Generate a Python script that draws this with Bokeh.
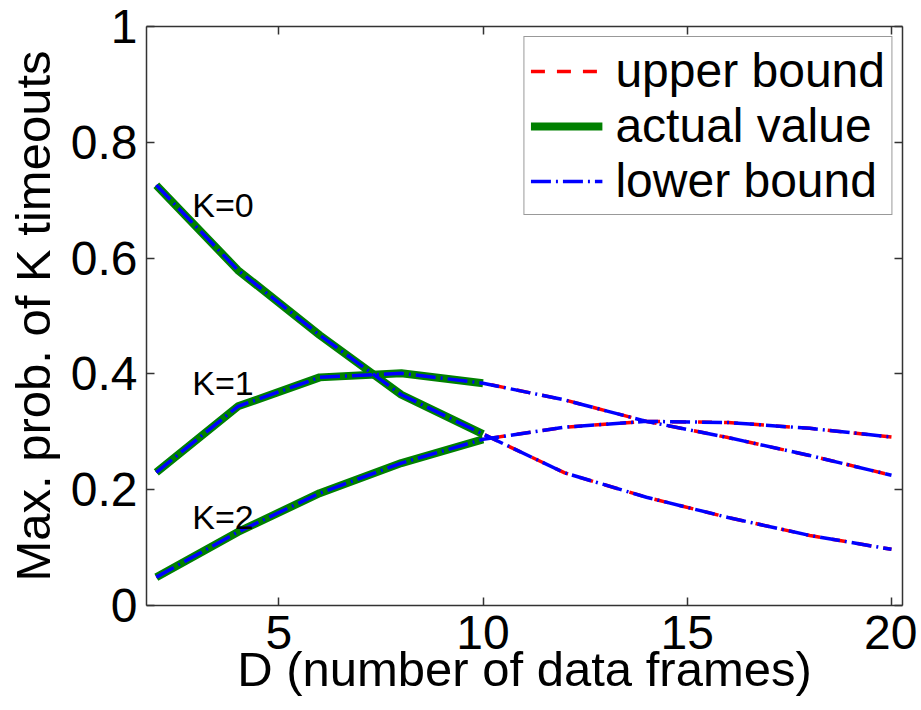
from bokeh.plotting import figure
from bokeh.models import LinearAxis, FixedTicker, Legend, LegendItem, Range1d
from bokeh.core.properties import value
from bokeh.embed import file_html
from bokeh.resources import INLINE

# ---------------- data ----------------
D_actual = [2, 4, 6, 8, 10]
actual_K0 = [0.726, 0.579, 0.467, 0.364, 0.296]
actual_K1 = [0.230, 0.344, 0.394, 0.401, 0.384]
actual_K2 = [0.049, 0.127, 0.194, 0.246, 0.287]

D_bound = [2, 4, 6, 8, 10, 12, 14, 16, 18, 20]
upper_K0 = [0.726, 0.579, 0.467, 0.364, 0.296, 0.229, 0.187, 0.152, 0.121, 0.097]
upper_K1 = [0.230, 0.344, 0.394, 0.401, 0.384, 0.355, 0.318, 0.290, 0.259, 0.225]
upper_K2 = [0.049, 0.127, 0.194, 0.246, 0.287, 0.308, 0.318, 0.316, 0.306, 0.291]
lower_K0 = [0.726, 0.579, 0.467, 0.364, 0.296, 0.229, 0.187, 0.152, 0.121, 0.097]
lower_K1 = [0.230, 0.344, 0.394, 0.401, 0.384, 0.355, 0.318, 0.290, 0.259, 0.225]
lower_K2 = [0.049, 0.127, 0.194, 0.246, 0.287, 0.308, 0.318, 0.316, 0.306, 0.291]

K_labels = ["K=0", "K=1", "K=2"]
K_label_x = [2.88, 2.88, 2.88]
K_label_y = [0.692, 0.384, 0.153]

x_ticks = [5, 10, 15, 20]
x_tick_labels = ["5", "10", "15", "20"]
y_ticks = [0, 0.2, 0.4, 0.6, 0.8, 1.0]
y_tick_labels = ["0", "0.2", "0.4", "0.6", "0.8", "1"]

series_names = ["upper bound", "actual value", "lower bound"]
x_title = "D (number of data frames)"
y_title = "Max. prob. of K timeouts"

FONT = "Liberation Sans"

p = figure(frame_width=756, frame_height=579,
           x_range=Range1d(1.76, 20.27), y_range=Range1d(0, 1),
           output_backend="svg", toolbar_location=None,
           min_border_left=146, min_border_right=15,
           min_border_top=26, min_border_bottom=97)
p.grid.visible = False
p.outline_line_color = None
p.background_fill_color = "white"
p.border_fill_color = "white"

AX_COLOR = "#333333"

def style_axis(ax, ticks, labels, show_labels):
    ax.ticker = FixedTicker(ticks=ticks)
    ax.major_tick_in = 8
    ax.major_tick_out = 0
    ax.minor_tick_in = 0
    ax.minor_tick_out = 0
    ax.axis_line_color = AX_COLOR
    ax.axis_line_width = 1.5
    ax.major_tick_line_color = AX_COLOR
    ax.major_tick_line_width = 1.5
    ax.major_label_text_font = FONT
    if show_labels:
        ax.major_label_overrides = {t: l for t, l in zip(ticks, labels)}
        ax.major_label_text_color = "black"
        ax.major_label_text_font_size = "48px"
        ax.major_label_standoff = 10
    else:
        ax.major_label_overrides = {t: "" for t in ticks}
        ax.major_label_text_color = None
        ax.major_label_text_font_size = "2px"
        ax.major_label_standoff = 0

style_axis(p.xaxis[0], x_ticks, x_tick_labels, True)
style_axis(p.yaxis[0], y_ticks, y_tick_labels, True)
p.yaxis[0].major_label_standoff = 9
p.xaxis[0].axis_label = x_title
p.yaxis[0].axis_label = y_title
for ax in (p.xaxis[0], p.yaxis[0]):
    ax.axis_label_text_font = FONT
    ax.axis_label_text_font_size = "49px"
    ax.axis_label_text_font_style = "normal"
    ax.axis_label_text_color = "black"
p.xaxis[0].axis_label_standoff = -10
p.yaxis[0].axis_label_standoff = 8

top_ax = LinearAxis()
style_axis(top_ax, x_ticks, x_tick_labels, False)
p.add_layout(top_ax, "above")
right_ax = LinearAxis()
style_axis(right_ax, y_ticks, y_tick_labels, False)
p.add_layout(right_ax, "right")

upper = [upper_K0, upper_K1, upper_K2]
lower = [lower_K0, lower_K1, lower_K2]
actual = [actual_K0, actual_K1, actual_K2]

r_up, r_act, r_low = [], [], []
for ys in upper:
    r_up.append(p.line(D_bound, ys, line_color="red", line_width=3.5,
                       line_dash="14 12"))
for ys in actual:
    r_act.append(p.line(D_actual, ys, line_color="green", line_width=8))
for ys in lower:
    r_low.append(p.line(D_bound, ys, line_color="blue", line_width=3.5,
                        line_dash="20 5 2 5"))

p.text(x=K_label_x, y=K_label_y, text=K_labels,
       text_font=value(FONT), text_font_size="34px",
       text_baseline="middle", text_align="left", text_color="black")

legend = Legend(items=[
    LegendItem(label=series_names[0], renderers=[r_up[0]]),
    LegendItem(label=series_names[1], renderers=[r_act[0]]),
    LegendItem(label=series_names[2], renderers=[r_low[0]]),
], location="top_right")
legend.margin = 10
legend.padding = 6
legend.spacing = 0
legend.glyph_width = 72
legend.glyph_height = 20
legend.label_standoff = 13
legend.label_text_font = FONT
legend.label_text_font_size = "48px"
legend.label_text_color = "black"
legend.border_line_color = "#333333"
legend.border_line_width = 1.5
legend.background_fill_color = "white"
legend.background_fill_alpha = 1.0
p.add_layout(legend)

open("out.html", "w").write(file_html(p, INLINE))
